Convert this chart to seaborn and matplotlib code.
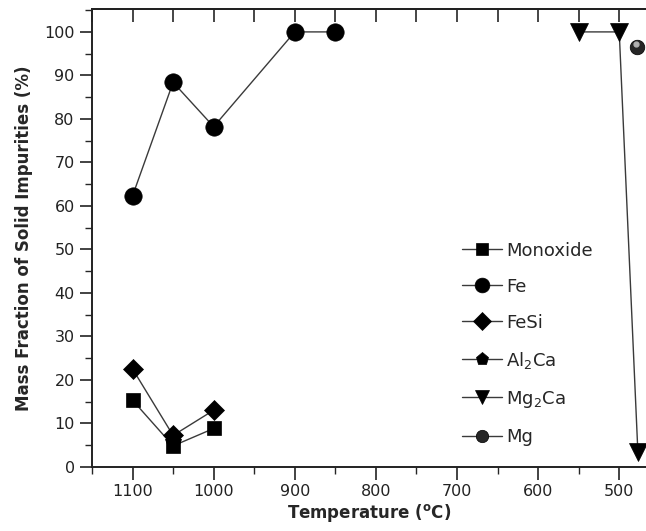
import numpy as np
import pandas as pd
import matplotlib
matplotlib.use('Agg')
import matplotlib.pyplot as plt
from matplotlib.ticker import MultipleLocator
import seaborn as sns

# ── DATA ──────────────────────────────────────────────────────────────────
mono_t = [1100, 1050, 1000]
mono_v = [15.3, 4.8, 8.8]

fe_t = [1100, 1050, 1000, 900, 850]
fe_v = [62.3, 88.4, 78.2, 100.0, 100.0]

fesi_t = [1100, 1050, 1000]
fesi_v = [22.5, 7.2, 13.0]

al2ca_t = [1050]
al2ca_v = [6.0]

mg2ca_t = [550, 500, 477]
mg2ca_v = [100.0, 100.0, 3.3]

mg_t = [478]
mg_v = [96.6]

xticks = [1100, 1000, 900, 800, 700, 600, 500]
yticks = [0, 10, 20, 30, 40, 50, 60, 70, 80, 90, 100]

# ── STYLE ─────────────────────────────────────────────────────────────────
sns.set_style('ticks')
plt.rcParams['font.family'] = ['DejaVu Sans']
plt.rcParams['mathtext.default'] = 'regular'

fig = plt.figure(figsize=(6.46, 5.31), dpi=100)
ax = fig.add_axes([0.1424, 0.121, 0.8576, 0.8615])

series = [
    ('Monoxide', mono_t, mono_v, 's', 10.5),
    ('Fe', fe_t, fe_v, 'o', 12.5),
    ('FeSi', fesi_t, fesi_v, 'D', 10.5),
    ('Al$_2$Ca', al2ca_t, al2ca_v, 'p', 11.5),
    ('Mg$_2$Ca', mg2ca_t, mg2ca_v, 'v', 12.5),
    ('Mg', mg_t, mg_v, 'o', 10.5),
]

for name, t, v, mk, ms in series:
    df = pd.DataFrame({'T': t, 'v': v})
    fc = '#262626' if name == 'Mg' else 'black'
    sns.lineplot(data=df, x='T', y='v', sort=False, ax=ax, color='#3a3a3a',
                 lw=1.0, marker=mk, markersize=ms, markerfacecolor=fc,
                 markeredgecolor='black', markeredgewidth=0.5,
                 label=name, clip_on=False, zorder=3)

# highlight on the Mg sphere
ax.plot(np.array(mg_t) + 1.5, np.array(mg_v) + 0.6, 'o', ms=3.5,
        color='#b0b0b0', zorder=4, clip_on=False)

ax.set_xlim(1150, 467)
ax.set_ylim(0, 105.2)
ax.set_xticks(xticks)
ax.set_yticks(yticks)
ax.xaxis.set_minor_locator(MultipleLocator(50))
ax.yaxis.set_minor_locator(MultipleLocator(5))
ax.tick_params(which='major', direction='out', length=9, width=1.2,
               labelsize=11.5, colors='#222222', top=False, right=False)
ax.tick_params(which='minor', direction='out', length=5, width=1.0,
               top=False, right=False)

top = ax.secondary_xaxis('top')
top.xaxis.set_major_locator(MultipleLocator(50))
top.tick_params(direction='in', length=9, width=1.2, labeltop=False)
top.spines['top'].set_linewidth(1.4)

for s in ['left', 'bottom', 'top']:
    ax.spines[s].set_linewidth(1.4)
    ax.spines[s].set_color('#222222')
ax.spines['right'].set_visible(False)

ax.set_xlabel(r'Temperature ($^{o}$C)', fontsize=12, fontweight='bold',
              labelpad=2)
ax.set_ylabel('Mass Fraction of Solid Impurities (%)', fontsize=12,
              fontweight='bold', labelpad=8)

ax.legend(loc='upper left', bbox_to_anchor=(0.652, 0.512), frameon=False,
          fontsize=13, handlelength=2.2, handletextpad=0.25,
          labelspacing=1.0, borderpad=0, markerscale=0.85)

fig.savefig('out.png', dpi=100)
